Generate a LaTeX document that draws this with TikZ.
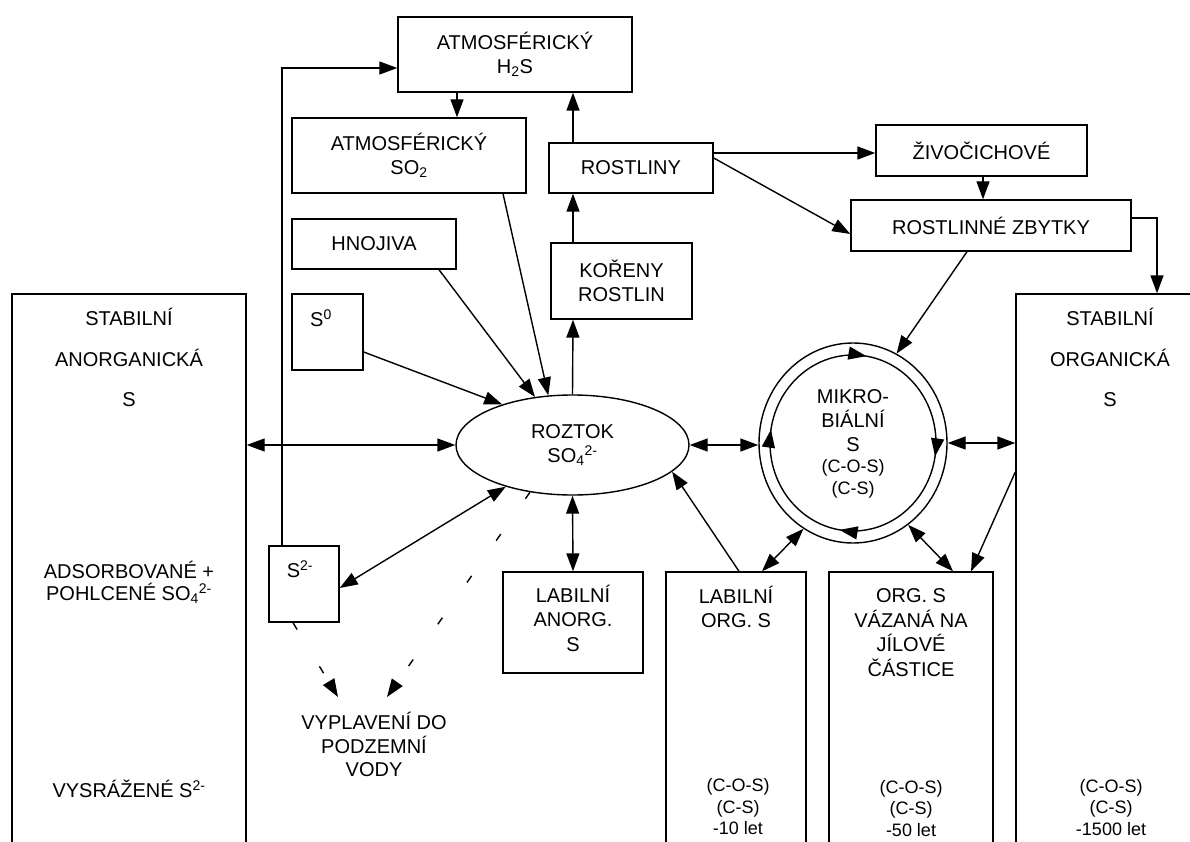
\documentclass[tikz,border=0pt]{standalone}
\usepackage{fontspec}
\setmainfont{Liberation Sans}
\usetikzlibrary{arrows.meta,shapes.geometric,decorations.markings}
\begin{document}
\begin{tikzpicture}[x=1pt,y=-1pt,
  line width=1.4pt,
  >={Triangle[length=18pt,width=13pt]},
  box/.style={draw,rectangle,inner sep=0pt,align=center,font=\fontsize{20}{24.5}\selectfont},
  txt/.style={inner sep=0pt,align=center,font=\fontsize{20}{24.5}\selectfont},
  small/.style={inner sep=0pt,align=center,font=\fontsize{18}{21.5}\selectfont},
  arr/.style={->},
  darr/.style={<->},
  dasharr/.style={->,dash pattern=on 8pt off 43pt},
]
\useasboundingbox (0,0) rectangle (1190,842);

% boxes
\node[box,minimum width=234pt,minimum height=75pt] (h2s) at (515,54.5) {ATMOSFÉRICKÝ\\H\textsubscript{2}S};
\node[box,minimum width=234pt,minimum height=75pt] (so2) at (409,155.5) {ATMOSFÉRICKÝ\\SO\textsubscript{2}};
\node[box,minimum width=164pt,minimum height=50pt] (rost) at (631,168) {ROSTLINY};
\node[box,minimum width=211pt,minimum height=51pt] (ziv) at (981.5,150.5) {ŽIVOČICHOVÉ};
\node[box,minimum width=280pt,minimum height=51pt] (zby) at (991,225.5) {ROSTLINNÉ ZBYTKY};
\node[box,minimum width=164pt,minimum height=50pt] (hno) at (374,244) {HNOJIVA};
\node[box,minimum width=71pt,minimum height=76pt] (s0) at (327.5,332) {};
\node[txt] (s0t) at (321,318) {S\textsuperscript{0}};
\node[box,minimum width=141pt,minimum height=76pt] (kor) at (621.5,281) {KOŘENY\\ROSTLIN};
\node[box,minimum width=234pt,minimum height=566pt] (lbox) at (129,577) {};
\node[box,minimum width=70pt,minimum height=76pt] (s2) at (304,584) {};
\node[txt] (s2t) at (300,569) {S\textsuperscript{2-}};
\node[box,ellipse,minimum width=233pt,minimum height=100pt] (ell) at (572.5,445) {ROZTOK\\SO\textsubscript{4}\textsuperscript{2-}};
\node[draw,ellipse,inner sep=0pt,minimum width=188pt,minimum height=200pt] (mic) at (853,443) {};
\node[box,minimum width=140pt,minimum height=101pt] (lan) at (573,622.5) {};
\node[txt] (lant) at (573,618) {LABILNÍ\\ANORG.\\S};
\node[box,minimum width=140pt,minimum height=288pt] (lorg) at (736,716) {};
\node[box,minimum width=164pt,minimum height=288pt] (vaz) at (911,716) {};
\node[box,minimum width=194pt,minimum height=566pt] (rbox) at (1113,577) {};

% texts
\node[txt,font=\fontsize{20}{40.5}\selectfont] (lt1) at (129,357.5) {STABILNÍ\\ANORGANICKÁ\\S};
\node[txt,font=\fontsize{20}{22}\selectfont] (lt2) at (129,582.5) {ADSORBOVANÉ +\\POHLCENÉ SO\textsubscript{4}\textsuperscript{2-}};
\node[txt] (lt3) at (129,789) {VYSRÁŽENÉ S\textsuperscript{2-}};
\node[txt,font=\fontsize{20}{40.5}\selectfont] (rt1) at (1110,357.5) {STABILNÍ\\ORGANICKÁ\\S};
\node[txt,font=\fontsize{20}{23.5}\selectfont] (vyp) at (374,744.5) {VYPLAVENÍ DO\\PODZEMNÍ\\VODY};
\node[txt] (lorgt) at (736,607) {LABILNÍ\\ORG. S};
\node[small] (lorgb) at (738,807) {(C-O-S)\\(C-S)\\-10 let};
\node[txt,font=\fontsize{20}{24.7}\selectfont] (vazt) at (911,632.5) {ORG. S\\VÁZANÁ NA\\JÍLOVÉ\\ČÁSTICE};
\node[small] (vazb) at (911,808.5) {(C-O-S)\\(C-S)\\-50 let};
\node[small] (rb) at (1111,807.5) {(C-O-S)\\(C-S)\\-1500 let};
\node[txt,font=\fontsize{20}{24}\selectfont] (mict1) at (853,421) {MIKRO-\\BIÁLNÍ\\S};
\node[small,font=\fontsize{18}{22}\selectfont] (mict2) at (853,479) {(C-O-S)\\(C-S)};

% inner cycle of microbial S
\draw[postaction={decorate},decoration={markings,
  mark=at position 0.025 with {\arrow{>}},
  mark=at position 0.275 with {\arrow{>}},
  mark=at position 0.525 with {\arrow{>}},
  mark=at position 0.775 with {\arrow{>}}}]
  (mic.center) ++(83pt,0pt) arc[start angle=0,end angle=-360,x radius=83pt,y radius=88pt];

% connectors
\draw[arr] ([xshift=-22pt]s2.north) |- ([yshift=-13.5pt]h2s.west);
\draw[arr] ([xshift=-58pt]h2s.south) -- ([xshift=48pt]so2.north);
\draw[arr] ([xshift=-58pt]rost.north) -- ([xshift=58pt]h2s.south);
\draw[arr] ([xshift=-48.5pt]kor.north) -- ([xshift=-58pt]rost.south);
\draw[arr] (ell.north) -- ([xshift=-48.5pt]kor.south);
\draw[arr] ([yshift=15pt]rost.east) -- ([yshift=-2.5pt]ziv.west);
\draw[arr] ([yshift=10pt]rost.east) -- ([yshift=-8.5pt]zby.west);
\draw[arr] ([xshift=1.5pt]ziv.south) -- ([xshift=-8pt]zby.north);
\draw[arr] ([yshift=7.5pt]zby.east) -| ([xshift=44pt]rbox.north);
\draw[arr] ([xshift=-24pt]zby.south) -- (mic.64);
\draw[arr] ([xshift=65pt]hno.south) -- (ell.128);
\draw[arr] ([xshift=94pt]so2.south) -- (ell.116);
\draw[arr] ([yshift=-20pt]s0.east) -- (ell.150);
\draw[darr] (lbox.east |- ell.west) -- (ell.west);
\draw[darr] ([yshift=-4pt]s2.east) -- (ell.212);
\draw[darr] (ell.south) -- (lan.north);
\draw[darr] (ell.east) -- (ell.east -| mic.west);
\draw[darr] (mic.east) -- (mic.east -| rbox.west);
\draw[arr] ([xshift=3pt]lorg.north) -- (ell.345);
\draw[darr] ([xshift=26pt]lorg.north) -- (mic.240);
\draw[darr] (mic.304) -- ([xshift=42pt]vaz.north);
\draw[arr] ([yshift=105pt]rbox.west) -- ([xshift=60pt]vaz.north);

% leaching (dashed)
\coordinate (vl) at (338,697);
\coordinate (vr) at (387,697);
\draw[dasharr] ([xshift=-11pt]s2.south) -- (vl);
\draw[dasharr] (ell.228) -- (vr);
\end{tikzpicture}
\end{document}
